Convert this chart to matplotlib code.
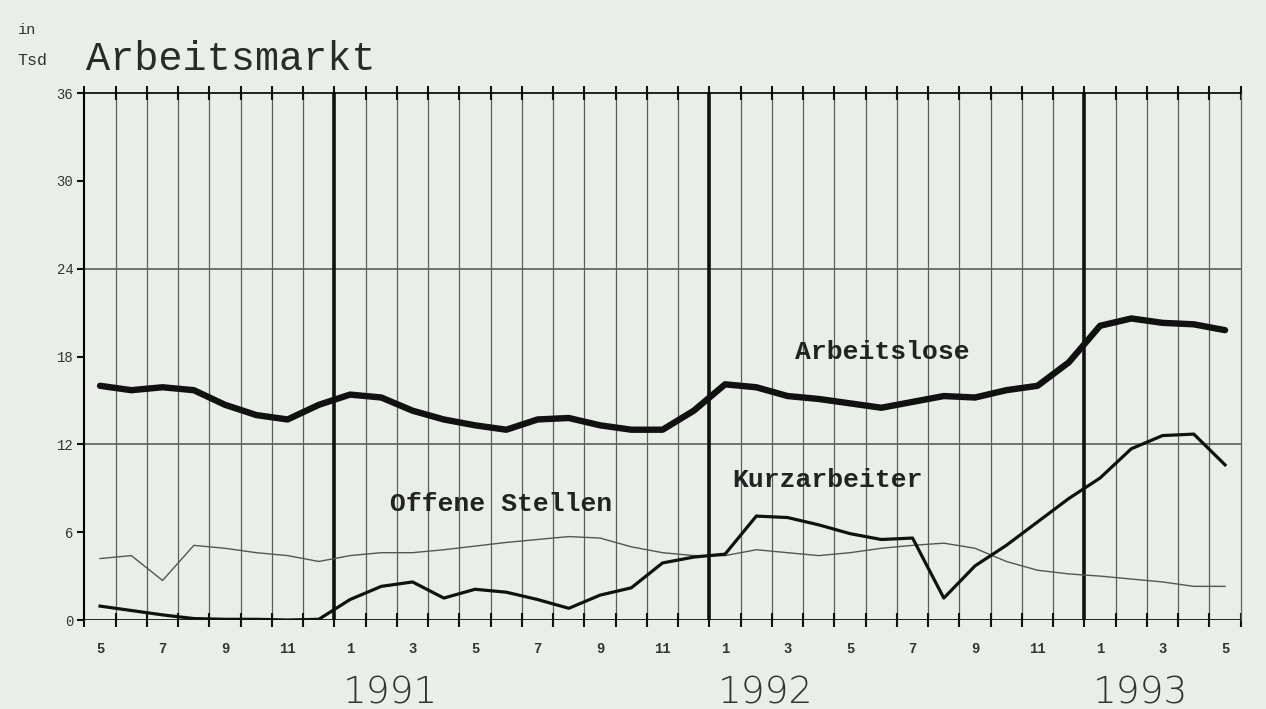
import matplotlib.pyplot as plt
import numpy as np

# Monthly values in thousands, May 1990 .. May 1993
arbeitslose = [16.0, 15.7, 15.9, 15.7, 14.7, 14.0, 13.7, 14.7, 15.4, 15.2,
               14.3, 13.7, 13.3, 13.0, 13.7, 13.8, 13.3, 13.0, 13.0, 14.3,
               16.1, 15.9, 15.3, 15.1, 14.8, 14.5, 14.9, 15.3, 15.2, 15.7,
               16.0, 17.6, 20.1, 20.6, 20.3, 20.2, 19.8]
kurzarbeiter = [0.95, 0.65, 0.35, 0.1, 0.05, 0.05, 0.0, 0.05, 1.4, 2.3,
                2.6, 1.5, 2.1, 1.9, 1.4, 0.8, 1.7, 2.2, 3.9, 4.3,
                4.5, 7.1, 7.0, 6.5, 5.9, 5.5, 5.6, 1.5, 3.7, 5.1,
                6.7, 8.3, 9.7, 11.7, 12.6, 12.7, 10.6]
offene_stellen = [4.2, 4.4, 2.7, 5.1, 4.9, 4.6, 4.4, 4.0, 4.4, 4.6,
                  4.6, 4.8, 5.05, 5.3, 5.5, 5.7, 5.6, 5.0, 4.6, 4.4,
                  4.4, 4.8, 4.6, 4.4, 4.6, 4.9, 5.1, 5.25, 4.9, 4.0,
                  3.4, 3.15, 3.0, 2.8, 2.6, 2.3, 2.3]
month_numbers = [5, 6, 7, 8, 9, 10, 11, 12] + list(range(1, 13)) * 2 + [1, 2, 3, 4, 5]
years = ["1991", "1992", "1993"]
y_ticks = [0, 6, 12, 18, 24, 30, 36]

bg = "#e9eee8"
n = len(month_numbers)
centers = np.arange(n) + 0.5
year_starts = [i for i, m in enumerate(month_numbers) if m == 1]

fig = plt.figure(figsize=(12.66, 7.09), dpi=100, facecolor=bg)
ax = fig.add_axes([0.0667, 0.1255, 0.9133, 0.7433])
ax.set_facecolor(bg)
ax.set_xlim(0, n)
ax.set_ylim(0, 36)

# grid: one line per month, thick lines at year changes
for i in range(1, n):
    if i in year_starts:
        ax.axvline(i, color="#111111", lw=2.6, zorder=2)
    else:
        ax.axvline(i, color="#5a5f5a", lw=0.9, zorder=1)
for yv in (12, 24):
    ax.axhline(yv, color="#5a5f5a", lw=1.2, zorder=1)

ax.plot(centers, offene_stellen, color="#555555", lw=1.0, zorder=3)
ax.plot(centers, kurzarbeiter, color="#111111", lw=2.3, zorder=4)
ax.plot(centers, arbeitslose, color="#111111", lw=4.6, zorder=5,
        solid_capstyle="round", solid_joinstyle="round")

lab = dict(family="Liberation Mono", fontweight="bold", fontsize=19, color="#222222",
           va="center")
ax.text(22.74, 18.3, "Arbeitslose", **lab)
ax.text(20.72, 9.56, "Kurzarbeiter", **lab)
ax.text(9.78, 7.9, "Offene Stellen", **lab)

ax.spines["bottom"].set_visible(False)
ax.spines["left"].set_linewidth(1.5)
ax.spines["top"].set_linewidth(1.2)
ax.spines["right"].set_linewidth(0.9)
ax.spines["right"].set_color("#5a5f5a")
ax.axhline(0, color="#111111", lw=2.0, zorder=6)

ax.set_xticks(np.arange(0, n + 1), minor=True)
ax.tick_params(axis="x", which="minor", direction="inout", length=10, width=1.5,
               color="#111111", top=True)
ax.set_xticks(centers[::2])
ax.set_xticklabels([str(m) for m in month_numbers[::2]], family="Liberation Mono",
                   fontweight="bold", fontsize=10, color="#333333")
ax.tick_params(axis="x", which="major", length=0, pad=16)

ax.set_yticks(y_ticks)
ax.set_yticklabels([str(v) for v in y_ticks], family="Liberation Mono",
                   fontsize=10, color="#333333")
ax.tick_params(axis="y", direction="out", length=5, width=1.5, color="#111111", pad=3)

for ys, yr in zip(year_starts, years):
    ax.text(ys + 1.8, -5.0, yr, ha="center", va="center", fontsize=27,
            family="DejaVu Sans", color="#333333", fontweight="light")

fig.text(0.014, 0.957, "in", family="Liberation Mono", fontsize=11, color="#333333", va="center")
fig.text(0.014, 0.915, "Tsd", family="Liberation Mono", fontsize=12, color="#333333", va="center")
fig.text(0.068, 0.917, "Arbeitsmarkt", family="Liberation Mono", fontsize=29,
         color="#2a2a2a", va="center")

fig.savefig("out.png", dpi=100, facecolor=bg)
